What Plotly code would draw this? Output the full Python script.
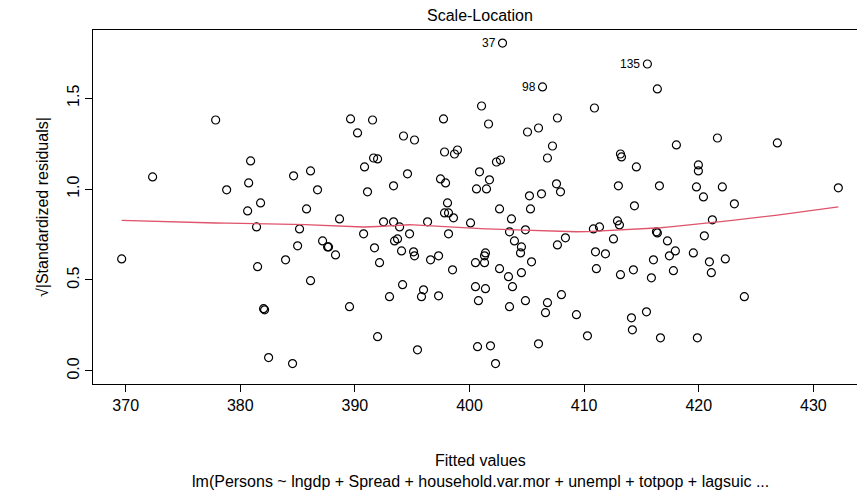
import numpy as np
import plotly.graph_objects as go

# Fitted values and sqrt(|standardized residuals|) of the regression
fitted = [
    369.65, 372.35, 377.85, 378.81, 380.73, 380.90, 380.64, 381.77, 381.42, 381.51,
    382.03, 382.12, 382.47, 383.95, 384.56, 384.65, 385.00, 385.17, 385.78, 386.13,
    386.13, 386.74, 387.18, 387.62, 387.70, 388.31, 388.66, 389.53, 389.62, 390.23,
    390.76, 390.84, 391.10, 391.54, 391.63, 391.98, 391.71, 391.98, 392.15, 392.50,
    393.02, 393.37, 393.37, 393.46, 393.72, 393.90, 394.16, 394.07, 394.24, 394.59,
    394.77, 395.12, 395.20, 395.20, 395.46, 395.81, 395.99, 396.34, 396.60, 397.30,
    397.30, 397.47, 397.73, 397.82, 397.82, 397.91, 398.08, 398.17, 398.17, 398.52,
    398.60, 398.69, 398.95, 400.09, 400.61, 400.52, 400.52, 400.78, 400.70, 400.87,
    401.05, 401.31, 401.31, 401.39, 401.39, 401.48, 401.66, 401.74, 401.83, 402.27,
    402.35, 402.70, 402.62, 402.62, 402.88, 403.40, 403.49, 403.49, 403.66, 403.75,
    403.92, 404.45, 404.53, 404.53, 404.88, 404.88, 405.06, 405.23, 405.32, 405.41,
    406.02, 406.02, 406.28, 406.37, 406.63, 406.80, 406.80, 407.24, 407.59, 407.67,
    407.67, 407.94, 408.02, 408.37, 409.33, 410.29, 410.81, 411.34, 410.90, 410.99,
    411.07, 411.86, 412.56, 412.91, 413.08, 412.99, 413.17, 413.26, 413.17, 414.13,
    414.21, 414.30, 414.39, 414.56, 415.44, 415.52, 415.87, 416.05, 416.31, 416.39,
    416.39, 416.57, 416.66, 417.27, 417.44, 417.79, 417.96, 418.05, 419.53, 419.80,
    419.88, 419.97, 419.97, 420.41, 420.49, 420.93, 421.10, 421.19, 421.63, 422.06,
    422.32, 423.11, 423.98, 426.86, 432.18,
]
sqrt_abs_std_resid = [
    0.616, 1.067, 1.380, 0.996, 1.034, 1.155, 0.880, 0.924, 0.792, 0.573,
    0.342, 0.336, 0.073, 0.611, 0.040, 1.073, 0.688, 0.781, 0.891, 1.100,
    0.496, 0.996, 0.715, 0.682, 0.682, 0.638, 0.836, 0.353, 1.386, 1.309,
    0.754, 1.122, 0.985, 1.380, 1.171, 1.166, 0.677, 0.188, 0.595, 0.820,
    0.408, 0.820, 1.018, 0.715, 0.726, 0.792, 0.474, 0.660, 1.292, 1.084,
    0.754, 0.655, 0.633, 1.270, 0.116, 0.408, 0.446, 0.820, 0.611, 0.633,
    0.413, 1.056, 1.386, 1.204, 0.869, 1.034, 0.924, 0.869, 0.754, 0.556,
    0.842, 1.193, 1.215, 0.814, 1.001, 0.595, 0.463, 0.386, 0.133, 1.095,
    1.457, 0.595, 0.633, 0.649, 0.452, 1.001, 1.358, 1.051, 0.138, 0.040,
    1.149, 1.160, 0.891, 0.562, 1.803, 0.518, 0.765, 0.353, 0.836, 0.463,
    0.715, 0.649, 0.682, 0.540, 0.776, 0.386, 1.314, 0.963, 0.891, 0.600,
    1.336, 0.149, 0.974, 1.562, 0.320, 0.375, 1.171, 1.237, 1.029, 1.391,
    0.693, 0.985, 0.419, 0.732, 0.309, 0.193, 0.781, 0.792, 1.446, 0.655,
    0.562, 0.644, 0.726, 0.825, 0.803, 1.018, 1.193, 1.177, 0.529, 0.292,
    0.226, 0.556, 0.908, 1.122, 0.325, 1.688, 0.512, 0.611, 0.765, 0.759,
    1.551, 1.018, 0.182, 0.715, 0.633, 0.551, 0.660, 1.243, 0.649, 1.012,
    0.182, 1.133, 1.100, 0.957, 0.743, 0.600, 0.540, 0.831, 1.281, 1.012,
    0.616, 0.919, 0.408, 1.254, 1.007,
]
# observation ids of the three largest residuals, in decreasing order
extreme_ids = ["37", "135", "98"]

x_ticks = [370, 380, 390, 400, 410, 420, 430]
y_ticks = [0.0, 0.5, 1.0, 1.5]
y_tick_text = ["0.0", "0.5", "1.0", "1.5"]

title_text = "Scale-Location"
x_title = "Fitted values"
y_title = "\u221a|Standardized residuals|"
sub_caption = "lm(Persons ~ lngdp + Spread + household.var.mor + unempl + totpop + lagsuic ..."

x = np.asarray(fitted, dtype=float)
y = np.asarray(sqrt_abs_std_resid, dtype=float)


def lowess(x, y, f=2 / 3, iters=3):
    """Cleveland's robust locally weighted regression (as in R's lowess)."""
    order = np.argsort(x, kind="stable")
    xs, ysrc = x[order], y[order]
    n = len(xs)
    ns = max(2, min(n, int(f * n + 1e-7)))
    fit = np.zeros(n)
    rw = np.ones(n)
    span_x = xs[-1] - xs[0]
    for it in range(iters + 1):
        for i in range(n):
            d = np.abs(xs - xs[i])
            h = np.sort(d)[ns - 1]
            w = np.zeros(n)
            if h > 0:
                inside = d <= 0.999 * h
                w[inside] = np.where(d[inside] <= 0.001 * h, 1.0,
                                     (1 - (d[inside] / h) ** 3) ** 3)
            else:
                w[d == 0] = 1.0
            w *= rw
            if w.sum() <= 0:
                fit[i] = ysrc[i]
                continue
            w /= w.sum()
            if h > 0:
                a = np.sum(w * xs)
                c = np.sum(w * (xs - a) ** 2)
                if np.sqrt(c) > 0.001 * span_x:
                    b = (xs[i] - a) / c
                    w = w * (b * (xs - a) + 1)
            fit[i] = np.sum(w * ysrc)
        if it == iters:
            break
        res = np.abs(ysrc - fit)
        cmad = 6 * np.median(res)
        if cmad < 1e-7:
            break
        rw = np.where(res <= 0.001 * cmad, 1.0,
                      np.where(res <= 0.999 * cmad, (1 - (res / cmad) ** 2) ** 2, 0.0))
    return xs, fit


sx, sy = lowess(x, y)

# axis limits with R's 4% padding; the right part of the frame runs off the page
x_span = x.max() - x.min()
x_lo, x_hi_full = x.min() - 0.04 * x_span, x.max() + 0.04 * x_span
y_max = y.max()
y_lo, y_hi = -0.04 * y_max, 1.04 * y_max

W, H = 857, 495
ml, mt, mb = 93, 30, 111
frame_px = 774.0
x_hi = x_lo + (x_hi_full - x_lo) * (W - ml) / frame_px

font_family = "Liberation Sans, Arial, Helvetica, sans-serif"

fig = go.Figure()
fig.add_trace(go.Scatter(
    x=x, y=y, mode="markers",
    marker=dict(symbol="circle-open", size=8, color="black", line=dict(width=1.2, color="black")),
    hoverinfo="skip",
))
fig.add_trace(go.Scatter(
    x=sx, y=sy, mode="lines",
    line=dict(color="#DF536B", width=1.3),
    hoverinfo="skip",
))

top = np.argsort(-y)[:len(extreme_ids)]
annotations = []
for lab, idx in zip(extreme_ids, top):
    annotations.append(dict(
        x=x[idx], y=y[idx], xref="x", yref="y", text=lab, showarrow=False,
        xanchor="right", yanchor="middle", xshift=-5,
        font=dict(size=12, family=font_family, color="black"),
    ))

center_x = (frame_px / 2) / (W - ml)
annotations += [
    dict(x=center_x, y=1, xref="paper", yref="paper", text=title_text, showarrow=False,
         xanchor="center", yanchor="middle", yshift=15, font=dict(size=16)),
    dict(x=center_x, y=0, xref="paper", yref="paper", text=x_title, showarrow=False,
         xanchor="center", yanchor="middle", yshift=-76, font=dict(size=16)),
    dict(x=center_x, y=0, xref="paper", yref="paper", text=sub_caption, showarrow=False,
         xanchor="center", yanchor="middle", yshift=-97, font=dict(size=16)),
    dict(x=0, y=0.5, xref="paper", yref="paper", text=y_title, showarrow=False,
         xanchor="center", yanchor="middle", xshift=-51, textangle=-90, font=dict(size=16)),
]

fig.update_layout(
    width=W, height=H,
    margin=dict(l=ml, r=0, t=mt, b=mb, pad=0),
    plot_bgcolor="white", paper_bgcolor="white",
    showlegend=False,
    font=dict(family=font_family, size=16, color="black"),
    annotations=annotations,
    xaxis=dict(
        range=[x_lo, x_hi], tickvals=x_ticks, ticks="outside", ticklen=7,
        tickwidth=1, tickcolor="black", showline=True, linecolor="black",
        linewidth=1, mirror=True, showgrid=False, zeroline=False,
        tickfont=dict(size=16),
    ),
    yaxis=dict(
        range=[y_lo, y_hi], tickvals=y_ticks, ticktext=y_tick_text, tickangle=-90,
        ticks="outside", ticklen=7, tickwidth=1, tickcolor="black",
        showline=True, linecolor="black", linewidth=1, mirror=False,
        showgrid=False, zeroline=False, tickfont=dict(size=16),
    ),
)

fig.write_html("out.html")
